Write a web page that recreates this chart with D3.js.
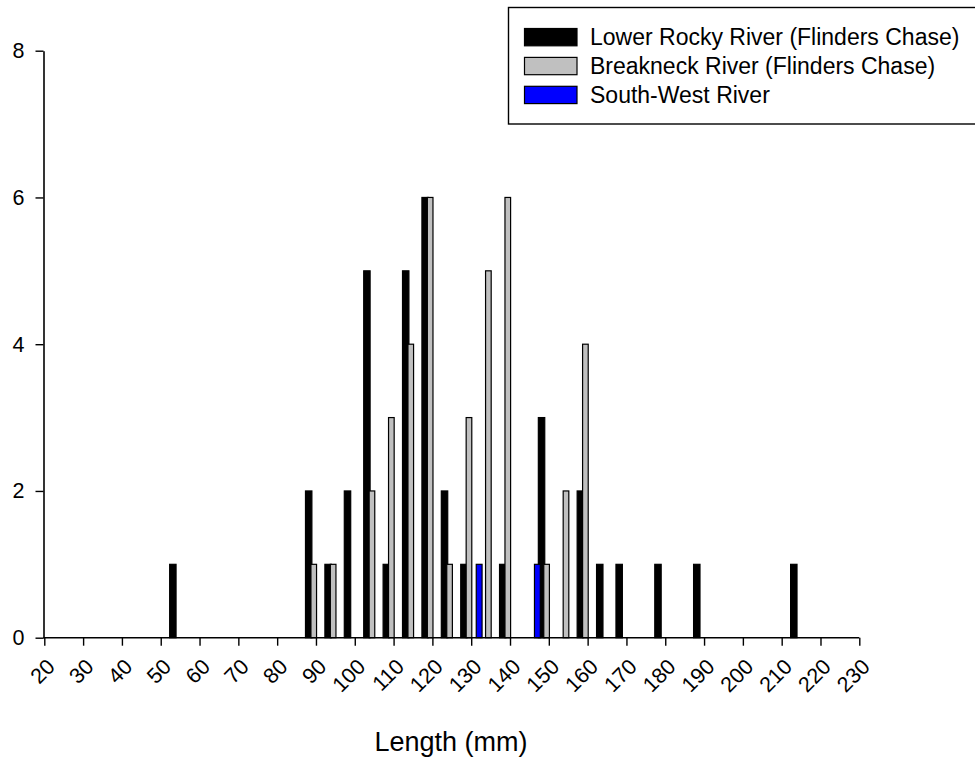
<!DOCTYPE html>
<html>
<head>
<meta charset="utf-8">
<script src="https://cdn.jsdelivr.net/npm/d3@7"></script>
<style>
  html, body { margin: 0; padding: 0; background: #fff; }
  svg { display: block; font-family: "Liberation Sans", Arial, sans-serif; }
</style>
</head>
<body>
<svg id="chart" width="975" height="760"></svg>
<script>
// Length-frequency counts in 5 mm classes (class lower bound, mm)
const binStart   = [50, 85, 90, 95, 100, 105, 110, 115, 120, 125, 130, 135, 145, 150, 155, 160, 165, 175, 185, 210];
const lowerRocky = [1,  2,  1,  2,  5,   1,   5,   6,   2,   1,   0,   1,   3,   0,   2,   1,   1,   1,   1,   1];
const breakneck  = [0,  1,  1,  0,  2,   3,   4,   6,   1,   3,   5,   6,   1,   2,   4,   0,   0,   0,   0,   0];
const southWest  = [0,  0,  0,  0,  0,   0,   0,   0,   0,   0,   1,   0,   1,   0,   0,   0,   0,   0,   0,   0];

const seriesNames = ["Lower Rocky River (Flinders Chase)", "Breakneck River (Flinders Chase)", "South-West River"];
const xTicks = [20, 30, 40, 50, 60, 70, 80, 90, 100, 110, 120, 130, 140, 150, 160, 170, 180, 190, 200, 210, 220, 230];
const yTicks = [0, 2, 4, 6, 8];

// bar placement within each 5 mm class (offset and width in mm)
const series = [
  { name: seriesNames[0], values: lowerRocky, fill: "#000000", off: 2.3, w: 1.65 },
  { name: seriesNames[1], values: breakneck,  fill: "#c0c0c0", off: 3.7, w: 1.45 },
  { name: seriesNames[2], values: southWest,  fill: "#0000ff", off: 1.3, w: 1.5 }
];

const svg = d3.select("#chart");
const x = d3.scaleLinear().domain([20, 230]).range([44.3, 859.3]);
const y = d3.scaleLinear().domain([0, 8]).range([637.7, 50.7]);

// bars
series.forEach(s => {
  const data = binStart.map((b, i) => ({ b, v: s.values[i] })).filter(d => d.v > 0);
  svg.append("g").selectAll("rect").data(data).join("rect")
    .attr("x", d => x(d.b + s.off))
    .attr("width", d => x(d.b + s.off + s.w) - x(d.b + s.off))
    .attr("y", d => y(d.v))
    .attr("height", d => y(0) - y(d.v))
    .attr("fill", s.fill)
    .attr("stroke", "#000")
    .attr("stroke-width", 1.2);
});

// x axis
const xAxis = svg.append("g")
  .attr("transform", `translate(0,${y(0)})`)
  .call(d3.axisBottom(x).tickValues(xTicks).tickSize(8).tickSizeOuter(0).tickFormat(d3.format("d")));
xAxis.select(".domain").attr("stroke", "#000").attr("stroke-width", 1.6)
  .attr("d", `M${x(20) - 1},0H${x(230)}`);
xAxis.selectAll(".tick line").attr("stroke", "#000").attr("stroke-width", 1.4);
xAxis.selectAll(".tick text")
  .attr("font-family", "Liberation Sans, Arial, sans-serif")
  .attr("font-size", 21.5).attr("fill", "#000")
  .attr("text-anchor", "end")
  .attr("x", 0).attr("y", 0).attr("dy", "0.35em")
  .attr("transform", "translate(6,25) rotate(-45)");

// y axis
const yAxis = svg.append("g")
  .attr("transform", `translate(${x(20) - 0.8},0)`)
  .call(d3.axisLeft(y).tickValues(yTicks).tickSize(8).tickSizeOuter(0));
yAxis.select(".domain").attr("stroke", "#000").attr("stroke-width", 1.6);
yAxis.selectAll(".tick text")
  .attr("font-family", "Liberation Sans, Arial, sans-serif")
  .attr("font-size", 21.5).attr("fill", "#000")
  .attr("x", -19);
yAxis.selectAll(".tick line").attr("stroke", "#000").attr("stroke-width", 1.4);

// axis title
svg.append("text")
  .attr("x", 451).attr("y", 751)
  .attr("text-anchor", "middle")
  .attr("font-size", 27)
  .text("Length (mm)");

// legend
const lg = svg.append("g");
lg.append("rect")
  .attr("x", 508.5).attr("y", 7.5).attr("width", 500).attr("height", 116.5)
  .attr("fill", "#fff").attr("stroke", "#000").attr("stroke-width", 1.4);
series.forEach((s, i) => {
  const yy = 28.5 + i * 28.9;
  lg.append("rect")
    .attr("x", 524.5).attr("y", yy).attr("width", 52.5).attr("height", 17.3)
    .attr("fill", s.fill).attr("stroke", "#000").attr("stroke-width", 1.2);
  lg.append("text")
    .attr("x", 590).attr("y", yy + 16.8)
    .attr("font-size", 23)
    .text(s.name);
});
</script>
</body>
</html>
